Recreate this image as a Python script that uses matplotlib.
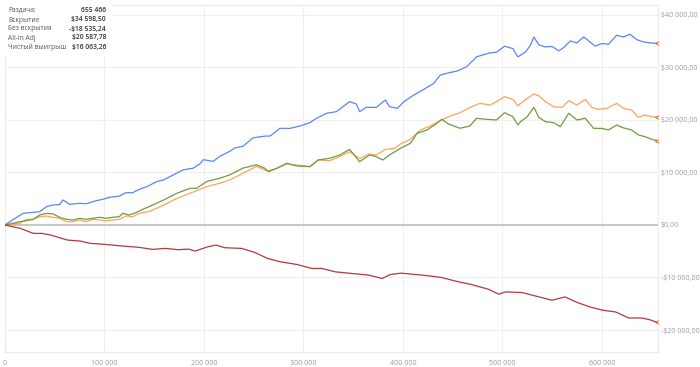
import matplotlib
matplotlib.use("Agg")
import matplotlib.pyplot as plt
from matplotlib.ticker import FuncFormatter

plt.rcParams['font.family'] = ['Open Sans', 'DejaVu Sans']

# ---- data ----
blue_x = [0, 10000, 18300, 25000, 35000, 41700, 48300, 55000, 58300, 65000, 75000, 81700, 91700, 98300,
          105000, 115000, 121700, 128300, 135000, 142700, 152700, 159300, 169300, 179300, 189300, 196000,
          199300, 209300, 216000, 226000, 231000, 239300, 249300, 261000, 266500, 276500, 286500, 296500,
          306500, 313200, 323200, 333200, 339800, 346500, 353200, 356500, 363200, 373200, 382500, 386500,
          394400, 401000, 411000, 420900, 430900, 437500, 445800, 454200, 464100, 474100, 487400, 494000,
          502300, 510600, 515600, 518300, 523300, 528300, 531700, 536700, 543300, 550000, 556700, 561700,
          568300, 575000, 581700, 586700, 593300, 600000, 606700, 615000, 621700, 628300, 635000, 641700,
          648300, 655466]
blue_y = [0, 1270, 2220, 2350, 2540, 3490, 3810, 3900, 4760, 3940, 4130, 4050, 4630, 4890,
          5270, 5520, 6160, 6150, 6790, 7310, 8270, 8590, 9550, 10510, 10830, 11670,
          12440, 12120, 13080, 14040, 14680, 15000, 16600, 16920, 16950, 18410, 18400, 18860,
          19490, 20320, 21270, 21590, 22540, 23490, 23050, 21590, 22410, 22400, 23810, 22540,
          22220, 23480, 24750, 25820, 26960, 28540, 28990, 29300, 30130, 32030, 32780, 32900,
          34050, 33610, 32030, 32340, 32970, 34240, 35820, 34300, 33920, 34000, 33160, 33800,
          35060, 34680, 35820, 35100, 34050, 34560, 34430, 36140, 35800, 36330, 35320, 34870,
          34680, 34598.50]

green_x = [0, 8300, 15000, 21700, 28300, 35000, 41700, 48300, 55000, 61700, 68300, 75000, 81700, 88300,
           95000, 101700, 108300, 115000, 118300, 125000, 131700, 138300, 146000, 159300, 172700, 186000,
           192700, 202700, 216000, 226000, 239300, 252700, 261000, 264800, 273200, 283200, 293200, 306500,
           314800, 326500, 336500, 346500, 356500, 366500, 373200, 379800, 386500, 397700, 407600, 414300,
           424300, 434200, 439200, 445800, 457500, 467400, 474100, 484100, 494000, 502300, 510600, 515600,
           518300, 525000, 531700, 536700, 543300, 551700, 558300, 566700, 575000, 583300, 591700, 600000,
           606700, 615000, 621700, 630000, 636700, 643300, 650000, 655466]
green_y = [0, 330, 630, 820, 1080, 1900, 2220, 2100, 1460, 1080, 950, 1270, 1080, 1270,
           1460, 1270, 1460, 1590, 2220, 1900, 2350, 2980, 3590, 4740, 6030, 6990,
           6990, 8270, 8910, 9550, 10830, 11470, 10830, 10160, 10790, 11750, 11240, 11110,
           12380, 12700, 13330, 14410, 12060, 13330, 13020, 12380, 13330, 14620, 15570, 17470,
           18100, 19370, 20130, 19240, 18420, 18860, 20320, 20130, 20000, 21390, 20630, 19050,
           19680, 20630, 22410, 20500, 19680, 19490, 18730, 21270, 20000, 20320, 18420, 18400,
           18100, 19050, 18500, 18100, 17150, 16840, 16330, 16063.26]

orange_x = [0, 8300, 15000, 21700, 28300, 35000, 41700, 48300, 55000, 61700, 68300, 75000, 81700, 88300,
            95000, 101700, 108300, 115000, 121700, 128300, 135000, 146000, 159300, 172700, 186000, 202700,
            216000, 226000, 239300, 252700, 261000, 264800, 273200, 283200, 293200, 306500, 314800, 326500,
            336500, 346500, 356500, 366500, 373200, 382500, 391500, 397700, 407600, 417600, 427600, 437500,
            447500, 457500, 467400, 477400, 487400, 494000, 502300, 510600, 515600, 518300, 525000, 531700,
            536700, 543300, 551700, 560000, 566700, 575000, 583300, 590000, 596700, 605000, 615000, 621700,
            630000, 636700, 643300, 650000, 655466]
orange_y = [0, 190, 320, 1080, 1080, 1590, 1710, 1460, 1270, 630, 630, 950, 630, 1080,
            950, 820, 950, 1080, 1710, 1590, 2220, 2630, 3780, 5060, 6030, 7310,
            7950, 8590, 9870, 11150, 10510, 10300, 10790, 11620, 11430, 11110, 12380, 12250,
            13020, 13970, 12700, 13520, 13330, 14410, 14600, 15440, 16330, 18100, 18860, 19870,
            20760, 21390, 22410, 23160, 22850, 23480, 24430, 23920, 22660, 23160, 24110, 24940,
            24600, 23480, 22530, 22410, 23670, 22850, 23920, 22410, 22030, 22220, 23160, 22220,
            21900, 20510, 20950, 20630, 20587.78]

red_x = [0, 6800, 15400, 28600, 37000, 45700, 62800, 75600, 86000, 97000, 118000, 135500, 148000,
         161000, 174000, 184600, 191000, 204000, 212000, 221000, 238000, 251000, 264000, 276500,
         293600, 308500, 319000, 332000, 349000, 366000, 379000, 387600, 398000, 413000, 426000,
         439000, 456000, 469000, 486000, 496600, 503000, 520000, 537000, 550000, 563000, 575600,
         588000, 601000, 614000, 627000, 640000, 648000, 655466]
red_y = [0, -300, -640, -1600, -1600, -1900, -2870, -3060, -3500, -3630, -4000, -4270, -4650,
         -4460, -4700, -4590, -4970, -4140, -3820, -4330, -4460, -5220, -6370, -7000,
         -7520, -8280, -8280, -8920, -9240, -9550, -10190, -9430, -9170, -9430, -9680,
         -10000, -10830, -11340, -12230, -13190, -12740, -12870, -13700, -14330, -13700, -14780,
         -15600, -16240, -16560, -17710, -17710, -18030, -18535.24]

info_labels = ["Раздача:", "Вскрытие", "Без вскрытия", "All-in Adj", "Чистый выигрыш"]
info_values = ["655 466", "$34 598,50", "-$18 535,24", "$20 587,78", "$16 063,26"]

x_ticks = [0, 100000, 200000, 300000, 400000, 500000, 600000]
y_ticks = [-20000, -10000, 0, 10000, 20000, 30000, 40000]

# ---- figure ----
fig = plt.figure(figsize=(7, 3.67), dpi=100)
ax = fig.add_axes([5/700, 1-352/367, 652.5/700, 347/367])

grid_c = '#efefef'
for t in x_ticks:
    ax.axvline(t, color=grid_c, lw=0.8, zorder=0)
for t in y_ticks:
    if t != 0:
        ax.axhline(t, color=grid_c, lw=0.8, zorder=0)
ax.axhline(0, color='#c8c8c8', lw=1.5, zorder=1)

series = [
    (blue_x, blue_y, '#5b84f7'),
    (orange_x, orange_y, '#ffa35c'),
    (green_x, green_y, '#6e9c3e'),
    (red_x, red_y, '#b23a3a'),
]
for xs, ys, c in series:
    ax.plot(xs, ys, color=c, lw=0.9, zorder=3)
    ax.plot(xs[-1], ys[-1], marker='<', ms=3, color='#e8551c', zorder=4, mew=0.6, mfc='none')

ax.set_xlim(0, 656000)
ax.set_ylim(-24190, 41900)

ax.set_xticks(x_ticks)
ax.xaxis.set_major_formatter(FuncFormatter(lambda v, p: '0' if v == 0 else f"{int(v):,}".replace(',', ' ')))
ax.yaxis.tick_right()
ax.set_yticks(y_ticks)

def yfmt(v, p):
    s = f"{abs(int(v)):,}".replace(',', ' ') + ',00'
    return ('-$' if v < 0 else '$') + s
ax.yaxis.set_major_formatter(FuncFormatter(yfmt))
ax.tick_params(axis='both', length=0, labelsize=5.0, labelcolor='#9a9a9a')
ax.tick_params(axis='x', pad=6)
ax.tick_params(axis='y', pad=2.5)
for s in ax.spines.values():
    s.set_color('#ececec')
    s.set_linewidth(0.8)

# info box
box = plt.Rectangle((0, 1-56/367), 112/700, 56/367, transform=fig.transFigure,
                    facecolor='white', edgecolor='none', zorder=10)
fig.patches.append(box)
rows_y = [10, 20, 29, 38, 47]
for lab, val, yy in zip(info_labels, info_values, rows_y):
    fig.text(8/700, 1-yy/367, lab, fontsize=4.8, color='#555555', va='center', ha='left', zorder=11)
    fig.text(106/700, 1-yy/367, val, fontsize=4.9, color='#333333', va='center', ha='right',
             fontweight='semibold', zorder=11)

fig.savefig('out.png', dpi=100, facecolor='white')
